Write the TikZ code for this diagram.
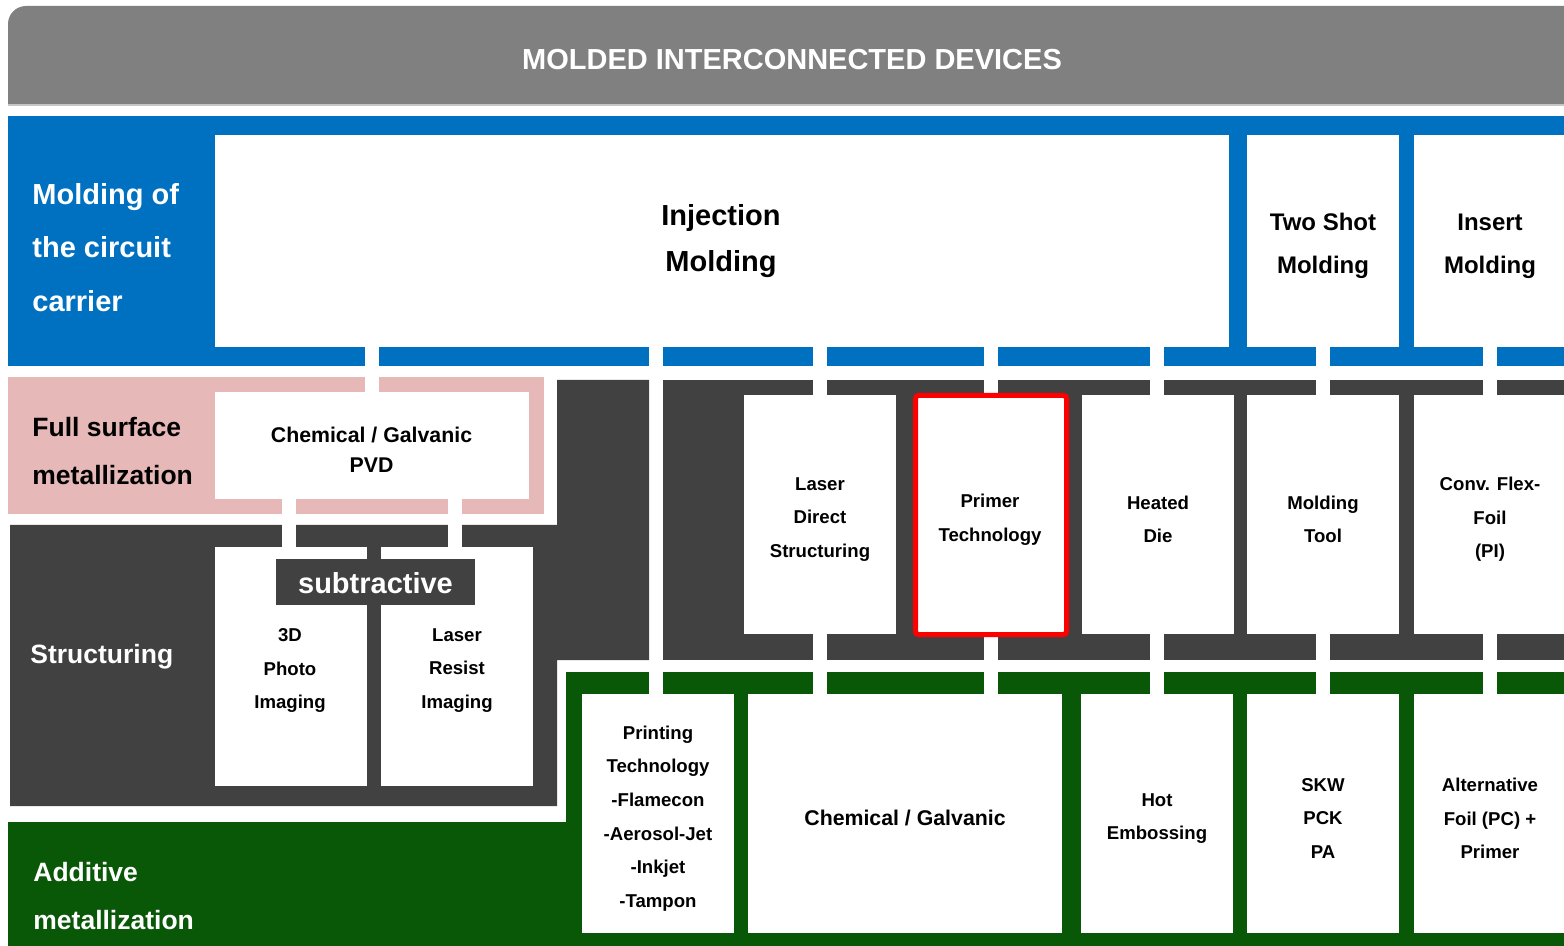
\documentclass[tikz,border=0pt]{standalone}
\usepackage{fontspec}
\setmainfont{Liberation Sans}
\definecolor{hdr}{HTML}{808080}
\definecolor{mblue}{HTML}{0070C0}
\definecolor{mpink}{HTML}{E6B8B7}
\definecolor{mdark}{HTML}{414141}
\definecolor{mgreen}{HTML}{085808}
\begin{document}
\begin{tikzpicture}[x=0.5pt,y=-0.5pt,
  hd/.style={text=white,font=\fontsize{14.5}{17}\selectfont\bfseries,inner sep=0},
  side/.style={text=white,anchor=west,align=left,inner sep=0},
  bt/.style={text=black,align=center,inner sep=0,font=\fontsize{9.3}{16.8}\selectfont\bfseries},
  big/.style={text=black,align=center,inner sep=0},
  gapw/.style={fill=white}]
\useasboundingbox (0,0) rectangle (1564,946);
% ---------- header
\fill[hdr] (8,105) [rounded corners=9pt] -- (8,6) [sharp corners] -- (1564,6) -- (1564,105) -- cycle;
\draw[gray!45,line width=0.6pt] (8,105) -- (1564,105);
\node[hd] (title) at (792,60) {MOLDED INTERCONNECTED DEVICES};
% ---------- blue row
\fill[mblue] (8,116) rectangle (1564,366);
\fill[white] (215,135) rectangle (1229,347);
\fill[white] (1247,135) rectangle (1399,347);
\fill[white] (1414,135) rectangle (1564,347);
\foreach \g in {365,649,813,984,1150,1316,1483} \fill[gapw] (\g,346) rectangle ({\g+14},367);
\node[side,font=\fontsize{14.5}{26.75}\selectfont\bfseries] (moldlbl) at (32,247.5) {Molding of\\the circuit\\carrier};
\node[big,font=\fontsize{14.5}{23}\selectfont\bfseries] (inj) at (721,241.5) {Injection\\Molding};
\node[big,font=\fontsize{12}{21.5}\selectfont\bfseries] (twoshot) at (1323,246) {Two Shot\\Molding};
\node[big,font=\fontsize{12}{21.5}\selectfont\bfseries] (insert) at (1490,246) {Insert\\Molding};
% ---------- pink row
\fill[mpink] (8,377) rectangle (544,514);
\fill[white] (215,392) rectangle (529,499);
\fill[gapw] (365,376) rectangle (379,392);
\fill[gapw] (282,499) rectangle (296,515);
\fill[gapw] (448,499) rectangle (462,515);
\node[side,text=black,font=\fontsize{13.25}{24}\selectfont\bfseries] (fullsurf) at (32,451.5) {Full surface\\metallization};
\node[big,font=\fontsize{10.65}{15}\selectfont\bfseries] (pvd) at (371.5,450) {Chemical / Galvanic\\PVD};
% ---------- structuring (dark) left
\fill[mdark] (10,525) -- (557,525) -- (557,380) -- (649,380) -- (649,660) -- (557,660) -- (557,806) -- (10,806) -- cycle;
\fill[white] (215,547) rectangle (367,786);
\fill[white] (381,547) rectangle (533,786);
\fill[gapw] (282,514) rectangle (296,547);
\fill[gapw] (448,514) rectangle (462,547);
\fill[mdark] (276,559) rectangle (475,605);
\node[hd] (subtr) at (375.5,583) {subtractive};
\node[side,font=\fontsize{13.25}{24}\selectfont\bfseries] (struct) at (30,656.5) {Structuring};
\node[bt] (photo) at (290,670.5) {3D\\Photo\\Imaging};
\node[bt] (resist) at (457,670.5) {Laser\\Resist\\Imaging};
% ---------- structuring (dark) right
\fill[mdark] (663,380) rectangle (1564,660);
\foreach \g in {813,984,1150,1316,1483} {
  \fill[gapw] (\g,379) rectangle ({\g+14},395);
  \fill[gapw] (\g,634) rectangle ({\g+14},661);
}
\fill[white] (744,395) rectangle (896,634);
\fill[white] (1082,395) rectangle (1234,634);
\fill[white] (1247,395) rectangle (1399,634);
\fill[white] (1414,395) rectangle (1564,634);
\draw[red,line width=2.5pt,fill=white,rounded corners=1.5pt] (915.5,395.5) rectangle (1066.5,634.5);
\node[bt] (lds) at (820,519.5) {Laser\\Direct\\Structuring};
\node[bt] (primer) at (990,519.5) {Primer\\Technology};
\node[bt] (heated) at (1158,519.5) {Heated\\Die};
\node[bt] (tool) at (1323,519.5) {Molding\\Tool};
\node[bt] (flex) at (1490,519.5) {Conv. Flex-\\Foil\\(PI)};
% ---------- green row
\fill[mgreen] (8,822) -- (566,822) -- (566,672) -- (1564,672) -- (1564,946) -- (8,946) -- cycle;
\foreach \g in {649,813,984,1150,1316,1483} \fill[gapw] (\g,671) rectangle ({\g+14},694);
\fill[white] (582,694) rectangle (734,933);
\fill[white] (748,694) rectangle (1062,933);
\fill[white] (1081,694) rectangle (1233,933);
\fill[white] (1247,694) rectangle (1399,933);
\fill[white] (1414,694) rectangle (1564,933);
\node[side,font=\fontsize{13.25}{24}\selectfont\bfseries] (additive) at (33,896.5) {Additive\\metallization};
\node[bt] (printing) at (658,818.5) {Printing\\Technology\\-Flamecon\\-Aerosol-Jet\\-Inkjet\\-Tampon};
\node[big,font=\fontsize{10.65}{15}\selectfont\bfseries] (chemgal) at (905,818) {Chemical / Galvanic};
\node[bt] (hot) at (1157,818.5) {Hot\\Embossing};
\node[bt] (skw) at (1323,818.5) {SKW\\PCK\\PA};
\node[bt] (alt) at (1490,818.5) {Alternative\\Foil (PC) +\\Primer};
\end{tikzpicture}
\end{document}
